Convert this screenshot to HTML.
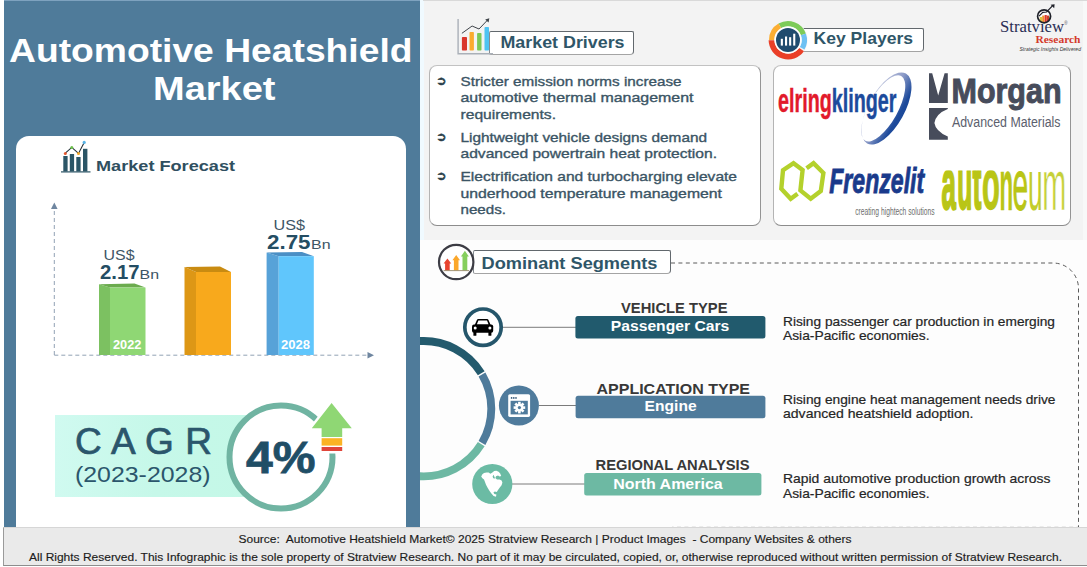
<!DOCTYPE html>
<html lang="en">
<head>
<meta charset="utf-8">
<title>Automotive Heatshield Market</title>
<style>
*{box-sizing:border-box;margin:0;padding:0}
html,body{width:1087px;height:567px;overflow:hidden;background:#fff}
body{position:relative;font-family:"Liberation Sans",sans-serif;color:#2f4f60}
.abs{position:absolute}
.nw{white-space:nowrap}
#left{left:4px;top:0;width:416px;height:528px;background:#4f7b9a}
#card{left:16px;top:136px;width:390px;height:400px;background:#fff;border-radius:13px 13px 0 0}
#title{left:4px;top:27px;width:416px;text-align:center;color:#fff;font-weight:bold;font-size:33px;line-height:39px;letter-spacing:-0.2px}
#rtop{left:420px;top:0;width:663px;height:240px;background:#f3f3f3}
#rbot{left:420px;top:240px;width:667px;height:288px;background:#fdfdfd}
#rstrip{left:1083px;top:0;width:4px;height:240px;background:#f8f8f8}
#lstrip{left:420px;top:0;width:3.5px;height:240px;background:#f0faff}
#topl{left:4px;top:0;width:416px;height:1px;background:#7ea2bf}
#topr{left:423px;top:0;width:664px;height:1px;background:#d9d9d9}
#footer{left:3px;top:527px;width:1084px;height:39px;background:#eaeaea;border-left:1px solid #9a9a9a;border-bottom:1px solid #8d8d8d;border-top:1px solid #d6d6d6;color:#1d1d1d;font-size:11px}
.box{background:#fff;border:1.3px solid;border-color:#c2c2c2 #949494 #8c8c8c #b4b4b4;border-radius:8px}
.lab{background:#fff;border:1px solid;border-color:#62686d #62686d #a4a4a4 #858b90;border-radius:2px 2px 4px 2px;color:#2f5668;font-weight:bold}
</style>
</head>
<body>
<div id="left" class="abs"></div>
<div id="card" class="abs"></div>
<div id="rtop" class="abs"></div>
<div id="rbot" class="abs"></div>
<div id="rstrip" class="abs"></div>
<div id="lstrip" class="abs"></div>
<div id="topl" class="abs"></div>
<div id="topr" class="abs"></div>
<!-- LEFT PANEL GRAPHICS -->
<svg class="abs" style="left:0;top:0" width="430" height="528" viewBox="0 0 430 528">
<!-- market forecast icon -->
<g>
<rect x="61" y="171.3" width="29.5" height="1.2" fill="#2b5566"/>
<rect x="63.3" y="156" width="4.3" height="15.5" fill="#2b5566"/>
<rect x="69.8" y="154" width="4.3" height="17.5" fill="#2b5566"/>
<rect x="76.3" y="157" width="4.3" height="14.5" fill="#2b5566"/>
<rect x="83" y="148.8" width="4.4" height="22.7" fill="#2b5566"/>
<polyline points="65.3,153.2 71.8,147.4 78.5,153.4 84.2,142.6" fill="none" stroke="#26323a" stroke-width="1.1"/>
<circle cx="65.3" cy="153.4" r="1.5" fill="#e4572e"/>
<circle cx="71.8" cy="147.4" r="1.5" fill="#6cc04a"/>
<circle cx="78.5" cy="153.6" r="1.5" fill="#f5a623"/>
<circle cx="84.2" cy="142.4" r="1.6" fill="#5ab4e6"/>
</g>
<!-- axes -->
<g stroke="#8497ac" stroke-width="0.9" fill="none" stroke-dasharray="4 3">
<line x1="54.3" y1="355" x2="54.3" y2="208"/>
<line x1="54.3" y1="355.2" x2="368" y2="355.2"/>
</g>
<polygon points="54.3,202.5 57.6,209 51,209" fill="#6f86a0"/>
<polygon points="374,355.2 367.5,352 367.5,358.4" fill="#6f86a0"/>
<!-- bars -->
<g>
<polygon points="99,284.3 110,287.6 110,355 99,355" fill="#7cc161"/>
<polygon points="99,284.3 134.5,283.6 145.5,287.6 110,287.6" fill="#6bab4e"/>
<rect x="110" y="287.6" width="35.5" height="67.4" fill="#8fd774"/>
<polygon points="184.5,267 196,272 196,355 184.5,355" fill="#dd9716"/>
<polygon points="184.5,267 220,266.6 231,272 196,272" fill="#c98b11"/>
<rect x="196" y="272" width="35" height="83" fill="#f8a91c"/>
<polygon points="266.6,252.5 278.7,256.2 278.7,355 266.6,355" fill="#57a2d8"/>
<polygon points="266.6,252.5 302,252 313.8,256.2 278.7,256.2" fill="#4a8fc5"/>
<rect x="278.7" y="256.2" width="35.1" height="98.8" fill="#60c6fc"/>
</g>
<!-- CAGR -->
<defs><linearGradient id="cg" x1="0" y1="0" x2="1" y2="0"><stop offset="0" stop-color="#d0faf0"/><stop offset="0.5" stop-color="#c6f8e9"/><stop offset="1" stop-color="#c4f8e7"/></linearGradient></defs>
<rect x="55" y="415" width="200" height="82" fill="url(#cg)"/>
<circle cx="281" cy="457" r="51.5" fill="#fff" stroke="#70b4a2" stroke-width="6"/>
<g stroke="#fff" stroke-width="5" stroke-linejoin="miter">
<polygon points="331.6,403 351.8,428.2 342.2,428.2 342.2,451 321.6,451 321.6,428.2 311.8,428.2" fill="#fff"/>
</g>
<polygon points="331.6,403 351.8,428.2 342.2,428.2 342.2,437 321.6,437 321.6,428.2 311.8,428.2" fill="#8fd774"/>
<rect x="321.6" y="438.2" width="20.6" height="7.4" fill="#fbb324"/>
<rect x="321.6" y="447" width="20.6" height="4" fill="#e0453a"/>
</svg>
<!-- LEFT PANEL TEXT -->
<svg class="abs" style="left:0;top:0" width="430" height="528" viewBox="0 0 430 528" font-family="'Liberation Sans',sans-serif">
<text x="9" y="61.5" font-size="33.5" font-weight="bold" fill="#fff" textLength="403.5" lengthAdjust="spacingAndGlyphs">Automotive Heatshield</text>
<text x="153" y="100" font-size="33.5" font-weight="bold" fill="#fff" textLength="122.5" lengthAdjust="spacingAndGlyphs">Market</text>
<text x="96" y="170.6" font-size="15.5" font-weight="bold" fill="#2f4f60" textLength="139" lengthAdjust="spacingAndGlyphs">Market Forecast</text>
<text x="103.5" y="260" font-size="15.5" fill="#3d5565" textLength="31" lengthAdjust="spacingAndGlyphs">US$</text>
<text x="100" y="279" font-size="20.5" font-weight="bold" fill="#244d63" textLength="39.5" lengthAdjust="spacingAndGlyphs">2.17</text>
<text x="139.5" y="279" font-size="13" fill="#3d5565" textLength="19.5" lengthAdjust="spacingAndGlyphs">Bn</text>
<text x="273.5" y="229.7" font-size="15.5" fill="#3d5565" textLength="31.5" lengthAdjust="spacingAndGlyphs">US$</text>
<text x="267" y="248.8" font-size="20.5" font-weight="bold" fill="#244d63" textLength="43.5" lengthAdjust="spacingAndGlyphs">2.75</text>
<text x="311" y="248.8" font-size="13" fill="#3d5565" textLength="19.5" lengthAdjust="spacingAndGlyphs">Bn</text>
<text x="113" y="349.4" font-size="12.5" font-weight="bold" fill="#fff" textLength="28.5" lengthAdjust="spacingAndGlyphs">2022</text>
<text x="281" y="349.4" font-size="12.5" font-weight="bold" fill="#fff" textLength="29" lengthAdjust="spacingAndGlyphs">2028</text>
<text x="75" y="454.2" font-size="37" fill="#2b566c" stroke="#2b566c" stroke-width="0.7" textLength="137" lengthAdjust="spacing">C A G R</text>
<text x="75" y="482.4" font-size="21.5" fill="#2b566c" textLength="135.5" lengthAdjust="spacingAndGlyphs">(2023-2028)</text>
<text x="246" y="472.5" font-size="44" font-weight="bold" fill="#1f4e66" stroke="#1f4e66" stroke-width="0.8" textLength="69.5" lengthAdjust="spacingAndGlyphs">4%</text>
</svg>
<!-- MARKET DRIVERS -->
<div class="abs box" style="left:429px;top:65px;width:332px;height:161px"></div>
<div class="abs lab" style="left:489px;top:31px;width:145px;height:24px"></div>
<svg class="abs" style="left:450px;top:10px" width="50" height="50" viewBox="450 10 50 50">
<path d="M458.1 19 V53.8 H493" fill="none" stroke="#aab0b8" stroke-width="1.4"/>
<rect x="461.9" y="37.1" width="5.1" height="13.4" rx="0.8" fill="#d9352b"/>
<rect x="469.5" y="31.9" width="4.4" height="18.6" rx="0.8" fill="#fbab2f"/>
<rect x="477.1" y="32.9" width="4.4" height="17.6" rx="0.8" fill="#7bc857"/>
<rect x="484.5" y="27.1" width="4.5" height="23.4" rx="0.8" fill="#4ec3f2"/>
<polyline points="461.9,33.3 472.1,26 479,29 487.6,20" fill="none" stroke="#3f444a" stroke-width="1"/>
<polygon points="489.3,18.2 488.6,22.6 485.2,19.4" fill="#3f444a"/>
</svg>
<!-- KEY PLAYERS -->
<div class="abs box" style="left:773px;top:65px;width:298px;height:161px"></div>
<div class="abs lab" style="left:800px;top:28px;width:124px;height:24px"></div>
<svg class="abs" style="left:765px;top:17px" width="46" height="46" viewBox="765 17 46 46">
<circle cx="788" cy="40" r="19.6" fill="#f3f3f3"/>
<g fill="none" stroke-width="5.2">
<path d="M779.8 25.8 A16.4 16.4 0 0 1 803.4 34.4" stroke="#7ccb58"/>
<path d="M803.4 34.4 A16.4 16.4 0 0 1 802.2 48.2" stroke="#6ec1f3"/>
<path d="M801.6 49.6 A16.6 16.6 0 0 1 771.5 40.3" stroke="#ea3f28" stroke-width="5.8"/>
<path d="M771.6 40 A16.4 16.4 0 0 1 779.8 25.8" stroke="#fbae33"/>
</g>
<circle cx="788" cy="40" r="13.6" fill="#fff"/>
<circle cx="788" cy="40" r="12" fill="#1f4b6e"/>
<rect x="780.8" y="38.8" width="2.1" height="6.8" fill="#fff"/>
<rect x="785" y="36.5" width="2.1" height="9.1" fill="#fff"/>
<rect x="789.1" y="37.2" width="2.1" height="8.4" fill="#fff"/>
<rect x="793.2" y="33.7" width="2.1" height="11.9" fill="#fff"/>
</svg>
<!-- LOGOS -->
<svg class="abs" style="left:774px;top:67px" width="296" height="158" viewBox="774 67 296 158" font-family="'Liberation Sans',sans-serif">
<defs>
<linearGradient id="sw" x1="862" y1="0" x2="913" y2="0" gradientUnits="userSpaceOnUse">
<stop offset="0" stop-color="#d3d6e6"/><stop offset="0.45" stop-color="#8e9cc8"/><stop offset="0.75" stop-color="#1d4a9b"/><stop offset="1" stop-color="#1a4796"/>
</linearGradient>
</defs>
<!-- elringklinger -->
<g transform="rotate(29 886.5 108.5)">
<path fill-rule="evenodd" fill="url(#sw)" d="M886.5 68.5 A18 40 0 0 1 886.5 148.5 A18 40 0 0 1 886.5 68.5 Z M883.6 73 A14.6 37 0 0 0 883.6 147 A14.6 37 0 0 0 883.6 73 Z"/>
</g>
<rect x="778" y="92" width="118" height="22" fill="#fff" opacity="0.55"/>
<text x="778" y="112.4" font-size="33.4" font-weight="bold" stroke-width="0.5" textLength="118.5" lengthAdjust="spacingAndGlyphs"><tspan fill="#e2192b" stroke="#e2192b">elring</tspan><tspan fill="#1c4a9c" stroke="#1c4a9c">klinger</tspan></text>
<!-- Morgan -->
<g fill="#474c5b">
<path d="M929 73.2 H932.2 L938.2 95.4 L944.6 73.2 H947.8 V103.1 H929 Z"/>
<path d="M929 107.9 H947.8 V109 Q936 113.6 934.4 123 Q935.6 131.2 947.8 136.6 V139.8 H929 Z"/>
<text x="951.5" y="102.9" font-size="35.5" font-weight="bold" stroke="#474c5b" stroke-width="1" textLength="110" lengthAdjust="spacingAndGlyphs">Morgan</text>
</g>
<text x="952" y="127" font-size="14" fill="#5b606d" textLength="108.5" lengthAdjust="spacingAndGlyphs">Advanced Materials</text>
<!-- Frenzelit -->
<path d="M797.6 193.8 L790.7 198.8 L781.3 188.8 L783 170.2 L793.5 163.2 L802.6 170 L800.4 190.4 L810.7 198.8 L820.8 191 L823.4 173 L813.5 163.2 L806.6 168.2" fill="none" stroke="#b4d12c" stroke-width="4.4" stroke-linejoin="miter"/>
<text x="829.2" y="193.4" font-size="35.5" font-weight="bold" font-style="italic" fill="#1a3a8b" stroke="#1a3a8b" stroke-width="0.9" textLength="95" lengthAdjust="spacingAndGlyphs">Frenzelit</text>
<text x="855.2" y="214.8" font-size="11.5" fill="#6e6e6e" textLength="79.5" lengthAdjust="spacingAndGlyphs">creating hightech solutions</text>
<!-- autoneum -->
<clipPath id="ac"><rect x="935" y="170.6" width="135" height="45"/></clipPath>
<g font-size="72" fill="#b9c516" stroke="#b9c516" stroke-linejoin="round" clip-path="url(#ac)">
<text x="941.6" y="209" font-weight="bold" stroke-width="2.4" textLength="14.4" lengthAdjust="spacingAndGlyphs">a</text>
<text x="957.2" y="209" font-weight="bold" stroke-width="2.4" textLength="15" lengthAdjust="spacingAndGlyphs">u</text>
<text x="972.6" y="209" font-weight="bold" stroke-width="2" textLength="9" lengthAdjust="spacingAndGlyphs">t</text>
<text x="982" y="209.4" font-weight="bold" stroke-width="1.4" textLength="17.8" lengthAdjust="spacingAndGlyphs">o</text>
<text x="999.4" y="209.6" font-weight="bold" stroke-width="0.5" textLength="13.6" lengthAdjust="spacingAndGlyphs">n</text>
<text x="1012.6" y="209.8" stroke-width="0.9" textLength="15.6" lengthAdjust="spacingAndGlyphs">e</text>
<text x="1028" y="209.8" stroke-width="0" fill="#c2cd2c" textLength="14.6" lengthAdjust="spacingAndGlyphs">u</text>
<text x="1042.2" y="209.8" stroke="#fff" stroke-width="0.7" fill="#c5d038" textLength="24" lengthAdjust="spacingAndGlyphs">m</text>
</g>
</svg>
<!-- STRATVIEW LOGO -->
<svg class="abs" style="left:995px;top:0" width="92" height="60" viewBox="995 0 92 60">
<g font-family="'Liberation Serif',serif">
<text x="1000" y="31.8" font-size="16.4" fill="#2a2e54" textLength="64" lengthAdjust="spacingAndGlyphs">Stratv&#305;ew</text>
<text x="1035.5" y="43" font-size="10.6" font-weight="bold" fill="#d43a2c" textLength="45" lengthAdjust="spacingAndGlyphs">Research</text>
<text x="1064.2" y="24.5" font-size="4.5" fill="#555" font-family="'Liberation Sans',sans-serif">&#174;</text>
</g>
<text x="1019.5" y="50.6" font-size="5.2" font-style="italic" fill="#3a3a3a" font-family="'Liberation Sans',sans-serif" textLength="61.5" lengthAdjust="spacingAndGlyphs">Strategic Insights Delivered</text>
<clipPath id="mg"><circle cx="1044.1" cy="16.3" r="6.4"/></clipPath>
<circle cx="1044.1" cy="16.3" r="6.5" fill="#fdfdfd"/>
<g clip-path="url(#mg)">
<rect x="1039.8" y="17" width="2.2" height="7" fill="#d9c53c"/>
<rect x="1042.2" y="15.6" width="2.2" height="8" fill="#f0902a"/>
<rect x="1044.6" y="15" width="2.2" height="8.6" fill="#df3a2b"/>
<rect x="1047" y="15.6" width="2" height="7.6" fill="#c9402b"/>
<rect x="1049.2" y="16.5" width="1.6" height="6" fill="#7fae58"/>
</g>
<circle cx="1044.1" cy="16.3" r="6.5" fill="none" stroke="#1f2129" stroke-width="1.7"/>
<polyline points="1039,16.2 1042.8,12.4 1046.6,12 1052.4,5.9" fill="none" stroke="#1f2129" stroke-width="1.2"/>
<polygon points="1054.6,4.2 1054.2,8.2 1050.6,4.8" fill="#1f2129"/>
</svg>

<!-- RIGHT TOP TEXT -->
<svg class="abs" style="left:420px;top:0" width="667" height="240" viewBox="420 0 667 240" font-family="'Liberation Sans',sans-serif">
<text x="500.5" y="47.6" font-size="16" font-weight="bold" fill="#2f5668" textLength="124" lengthAdjust="spacingAndGlyphs">Market Drivers</text>
<text x="813.5" y="44" font-size="16.5" font-weight="bold" fill="#2f5668" textLength="99.5" lengthAdjust="spacingAndGlyphs">Key Players</text>
<g font-size="12.6" fill="#2b3f4a" stroke="#2b3f4a" stroke-width="0.5" font-family="'DejaVu Sans',sans-serif">
<text x="436" y="84.7">&#10162;</text>
<text x="436" y="140.7">&#10162;</text>
<text x="436" y="179.7">&#10162;</text>
</g>
<g font-size="13" fill="#3b5565" stroke="#3b5565" stroke-width="0.35" lengthAdjust="spacingAndGlyphs">
<text x="460.5" y="85.8" textLength="221" lengthAdjust="spacingAndGlyphs">Stricter emission norms increase</text>
<text x="460.5" y="102.3" textLength="233" lengthAdjust="spacingAndGlyphs">automotive thermal management</text>
<text x="460.5" y="118.8" textLength="95.5" lengthAdjust="spacingAndGlyphs">requirements.</text>
<text x="460.5" y="141.8" textLength="246.5" lengthAdjust="spacingAndGlyphs">Lightweight vehicle designs demand</text>
<text x="460.5" y="158.2" textLength="256.5" lengthAdjust="spacingAndGlyphs">advanced powertrain heat protection.</text>
<text x="460.5" y="180.8" textLength="276.5" lengthAdjust="spacingAndGlyphs">Electrification and turbocharging elevate</text>
<text x="460.5" y="197.5" textLength="261.5" lengthAdjust="spacingAndGlyphs">underhood temperature management</text>
<text x="460.5" y="213.8" textLength="45.5" lengthAdjust="spacingAndGlyphs">needs.</text>
</g>
</svg>
<!-- DOMINANT SEGMENTS -->
<div class="abs lab" style="left:473px;top:250px;width:198px;height:24px"></div>
<svg class="abs" style="left:420px;top:240px" width="667" height="288" viewBox="420 240 667 288">
<!-- dashed frame -->
<path d="M671 263 H1053 A25.5 25.5 0 0 1 1078.5 288.5 V527.4 H672" fill="none" stroke="#5a5a5a" stroke-width="1" stroke-dasharray="4 3.4"/>
<!-- header icon -->
<circle cx="456.2" cy="262" r="17.2" fill="#fff" stroke="#3d3d45" stroke-width="2.2"/>
<polygon points="447.4,258.6 451.2,263.6 449.7,263.6 449.7,270.6 445.1,270.6 445.1,263.6 443.6,263.6" fill="#e8442f"/>
<polygon points="456.2,254.9 460,260.2 458.5,260.2 458.5,270.6 453.9,270.6 453.9,260.2 452.4,260.2" fill="#fba72b"/>
<polygon points="464.9,250.8 468.9,256.6 467.3,256.6 467.3,270.6 462.5,270.6 462.5,256.6 460.9,256.6" fill="#86cf5d"/>
<rect x="443.6" y="270.2" width="25.4" height="0.9" fill="#9a8a6a"/>
<!-- big arc -->
<g fill="none" stroke-width="7.9">
<path d="M419.6 341.1 A67.7 67.7 0 0 1 481.26 373.23" stroke="#235a6d"/>
<path d="M481.99 374.44 A67.7 67.7 0 0 1 481.99 442.96" stroke="#4f7b9b"/>
<path d="M481.26 444.17 A67.7 67.7 0 0 1 419.6 476.3" stroke="#6db8a3"/>
</g>
<!-- connector lines -->
<g stroke="#7b7b7b" stroke-width="1">
<line x1="503" y1="327.3" x2="576" y2="327.3"/>
<line x1="539" y1="405.5" x2="576" y2="405.5"/>
<line x1="512" y1="484" x2="585" y2="484"/>
</g>
<!-- bars -->
<rect x="575.4" y="316" width="190" height="22.4" rx="2.5" fill="#215a6d"/>
<rect x="575.6" y="395.8" width="189.8" height="22.4" rx="2.5" fill="#4f7b9b"/>
<rect x="584.2" y="473" width="177.2" height="22.6" rx="2.5" fill="#6db9a3"/>
<!-- car -->
<circle cx="483" cy="327.2" r="18.2" fill="#fff" stroke="#25566b" stroke-width="3.7"/>
<g fill="#000">
<path d="M474.6 325.2 L476.9 319.9 Q477.3 318.9 478.4 318.9 H487 Q488.1 318.9 488.5 319.9 L490.8 325.2 Z"/>
<rect x="472" y="324.4" width="21.2" height="8.4" rx="2"/>
<rect x="473.4" y="331.5" width="3" height="4.2" rx="0.5"/>
<rect x="488.4" y="331.5" width="3" height="4.2" rx="0.5"/>
</g>
<path d="M476.9 324.2 L478.4 320.4 H487 L488.5 324.2 Z" fill="#fff"/>
<circle cx="475.2" cy="328" r="1.5" fill="#fff"/>
<circle cx="489.9" cy="328" r="1.5" fill="#fff"/>
<!-- engine -->
<circle cx="518.9" cy="405.5" r="20" fill="#4f7b9c"/>
<rect x="508.2" y="394.2" width="21.9" height="22.7" rx="1.6" fill="#fff"/>
<rect x="510.6" y="400.8" width="17.2" height="13.6" fill="#4f7b9c"/>
<circle cx="511.6" cy="397.9" r="0.85" fill="#2f5575"/><circle cx="513.8" cy="397.9" r="0.85" fill="#2f5575"/><circle cx="516" cy="397.9" r="0.85" fill="#2f5575"/>
<g fill="#fff" transform="translate(519.4 407.6)">
<circle r="3.9"/>
<g id="teeth"><rect x="-1.3" y="-5.8" width="2.6" height="11.6"/><rect x="-5.8" y="-1.3" width="11.6" height="2.6"/></g>
<g transform="rotate(45)"><rect x="-1.3" y="-5.8" width="2.6" height="11.6"/><rect x="-5.8" y="-1.3" width="11.6" height="2.6"/></g>
</g>
<circle cx="519.4" cy="407.6" r="1.6" fill="#4f7b9c"/>
<!-- globe -->
<circle cx="492.3" cy="484" r="20.1" fill="#6bbba4"/>
<path d="M481.2 476.6 L482.4 474.2 L484 473 L486.5 472.6 L488.6 472.4 L490.4 473.8 L492.4 472.6 L494.2 470.9 L496.4 470.7 L498.6 471.8 L500.2 473.4 L501.2 476 L499.6 476.6 L498 475.6 L496 476.2 L495.4 478 L497 479.6 L499.6 479.4 L501.6 480.6 L502.4 482.4 L501.6 485.2 L499.8 487.6 L498 490 L496.8 492 L494.8 491.4 L493.4 492.6 L494.4 494 L496.4 494.4 L496 496.8 L493.6 496 L491.4 493.6 L489.4 490.8 L487.6 487.8 L486 484.8 L484.8 481.6 L484 479.4 L482.4 478.2 Z" fill="#fff"/>
<path d="M492.6 476.4 L493.6 474.8 L494.4 476.8 L495.2 478.6 L493.2 478.2 Z" fill="#6bbba4"/>
</svg>
<!-- RIGHT BOTTOM TEXT -->
<svg class="abs" style="left:420px;top:240px" width="667" height="288" viewBox="420 240 667 288" font-family="'Liberation Sans',sans-serif">
<text x="481.5" y="268.8" font-size="16.5" font-weight="bold" fill="#2f5668" textLength="176" lengthAdjust="spacingAndGlyphs">Dominant Segments</text>
<g font-weight="bold" fill="#383838" font-size="14.8">
<text x="621" y="312.8" textLength="106.5" lengthAdjust="spacingAndGlyphs">VEHICLE TYPE</text>
<text x="596.5" y="393.7" textLength="153.5" lengthAdjust="spacingAndGlyphs">APPLICATION TYPE</text>
<text x="595.5" y="469.8" textLength="154" lengthAdjust="spacingAndGlyphs">REGIONAL ANALYSIS</text>
</g>
<g font-weight="bold" fill="#fff" font-size="14.5">
<text x="610.8" y="331.4" textLength="118.5" lengthAdjust="spacingAndGlyphs">Passenger Cars</text>
<text x="644.6" y="410.9" textLength="52" lengthAdjust="spacingAndGlyphs">Engine</text>
<text x="613.2" y="489.3" textLength="109.5" lengthAdjust="spacingAndGlyphs">North America</text>
</g>
<g font-size="12.6" fill="#262626" stroke="#262626" stroke-width="0.2">
<text x="783" y="325.7" textLength="272" lengthAdjust="spacingAndGlyphs">Rising passenger car production in emerging</text>
<text x="783" y="340.3" textLength="146.5" lengthAdjust="spacingAndGlyphs">Asia-Pacific economies.</text>
<text x="783" y="403.5" textLength="272.5" lengthAdjust="spacingAndGlyphs">Rising engine heat management needs drive</text>
<text x="783" y="417.6" textLength="190.5" lengthAdjust="spacingAndGlyphs">advanced heatshield adoption.</text>
<text x="783" y="483.1" textLength="267.5" lengthAdjust="spacingAndGlyphs">Rapid automotive production growth across</text>
<text x="783" y="497.7" textLength="146.5" lengthAdjust="spacingAndGlyphs">Asia-Pacific economies.</text>
</g>
</svg>
<!--SECTIONS-->
<div id="footer" class="abs"></div>
<svg class="abs" style="left:0;top:527px" width="1087" height="40" viewBox="0 527 1087 40" font-family="'Liberation Sans',sans-serif" font-size="11" fill="#1c1c1c" stroke="#1c1c1c" stroke-width="0.15">
<text x="238.5" y="542.6" textLength="613" lengthAdjust="spacingAndGlyphs" xml:space="preserve" style="white-space:pre">Source:  Automotive Heatshield Market© 2025 Stratview Research | Product Images  - Company Websites &amp; others</text>
<text x="29" y="560.6" textLength="1033" lengthAdjust="spacingAndGlyphs">All Rights Reserved. This Infographic is the sole property of Stratview Research. No part of it may be circulated, copied, or, otherwise reproduced without written permission of Stratview Research.</text>
</svg>
</body>
</html>
